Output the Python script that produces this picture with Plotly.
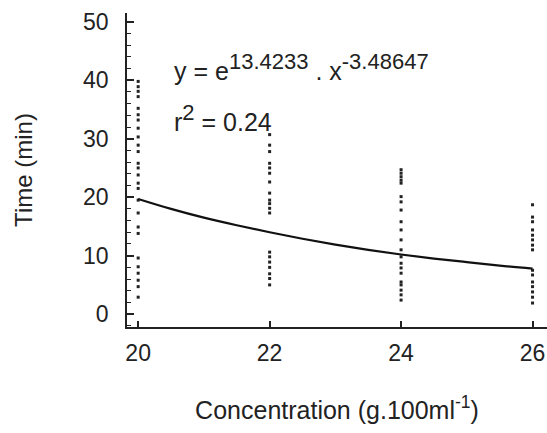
import plotly.graph_objects as go

# Observed times (min) at each concentration (g.100ml-1)
conc_20 = [39.8, 38.9, 38.1, 37.2, 35.2, 34.1, 33.2, 31.8, 30.3, 28.9, 27.8, 25.8, 25.0,
           23.8, 22.4, 21.5, 19.5, 17.3, 14.9, 13.8, 9.6, 8.1, 7.0, 5.8, 4.7, 2.9]
conc_22 = [30.7, 28.9, 27.8, 25.8, 25.0, 24.1, 22.6, 20.7, 19.5, 18.9, 18.1, 17.3,
           10.6, 9.8, 8.9, 8.0, 6.9, 6.1, 5.0]
conc_24 = [24.7, 24.1, 23.5, 22.9, 22.4, 20.1, 19.2, 17.8, 15.8, 14.4, 12.7, 11.0,
           9.8, 8.7, 7.9, 7.0, 5.5, 5.0, 4.1, 3.3, 2.4]
conc_26 = [18.7, 16.6, 15.8, 14.4, 13.5, 12.7, 11.8, 11.0, 7.5, 6.7, 5.5, 4.7, 3.8, 2.9, 1.9]

groups = {20: conc_20, 22: conc_22, 24: conc_24, 26: conc_26}

# Fitted curve
fit_x = [20, 20.5, 21, 21.5, 22, 22.5, 23, 23.5, 24, 24.5, 25, 25.5, 26]
fit_y = [19.7, 18.0, 16.5, 15.2, 14.0, 12.9, 11.9, 11.0, 10.2, 9.5, 8.9, 8.3, 7.8]

x_ticks = [20, 22, 24, 26]
y_ticks = [0, 10, 20, 30, 40, 50]

xs, ys = [], []
for c, vals in groups.items():
    xs += [c] * len(vals)
    ys += vals

fig = go.Figure()
fig.add_trace(go.Scatter(x=xs, y=ys, mode="markers",
                         marker=dict(symbol="square", size=3, color="#222"),
                         showlegend=False, hoverinfo="skip", cliponaxis=False))
fig.add_trace(go.Scatter(x=fit_x, y=fit_y, mode="lines",
                         line=dict(color="#111", width=2.2, shape="spline"),
                         showlegend=False, hoverinfo="skip"))

font = dict(family="Liberation Sans, Arial, sans-serif", color="#222")
SUP = '<sup><span style="font-size:22px">{}</span></sup>'

fig.add_annotation(x=20.52, y=42.3, xref="x", yref="y", xanchor="left", yanchor="middle",
                   text="y = e" + SUP.format("13.4233") + " . x" + SUP.format("-3.48647"),
                   showarrow=False, font=dict(size=25, **font))
fig.add_annotation(x=20.52, y=33.6, xref="x", yref="y", xanchor="left", yanchor="middle",
                   text="r" + SUP.format("2") + " = 0.24", showarrow=False,
                   font=dict(size=25, **font))

fig.update_layout(
    width=547, height=433,
    margin=dict(l=127, r=0, t=13, b=106),
    paper_bgcolor="white", plot_bgcolor="white",
    font=dict(size=23, **font),
    xaxis=dict(range=[19.83, 26.22], tickvals=x_ticks, ticks="inside", ticklen=6,
               tickwidth=1.5, tickcolor="#222", showline=True, linecolor="#222",
               linewidth=1.5, showgrid=False, zeroline=False, automargin=False,
               ticklabelstandoff=5,
               title=dict(text="Concentration (g.100ml<sup>-1</sup>)", font=dict(size=25, **font),
                          standoff=36)),
    yaxis=dict(range=[-2.2, 51.5], tickvals=y_ticks, ticks="inside", ticklen=7,
               tickwidth=1.5, tickcolor="#222", showline=True, linecolor="#222",
               linewidth=1.5, showgrid=False, zeroline=False, automargin=False,
               ticklabelstandoff=12,
               minor=dict(dtick=2, ticks="inside", ticklen=4, tickcolor="#222", tickwidth=1.2,
                          showgrid=False),
               title=dict(text="Time (min)", font=dict(size=24, **font), standoff=44)),
)

# remove the browser's default body margin so the figure fills the window exactly
fig.write_html("out.html", config={"displayModeBar": False},
               post_script="document.body.style.margin='0';document.body.style.overflow='hidden';")
